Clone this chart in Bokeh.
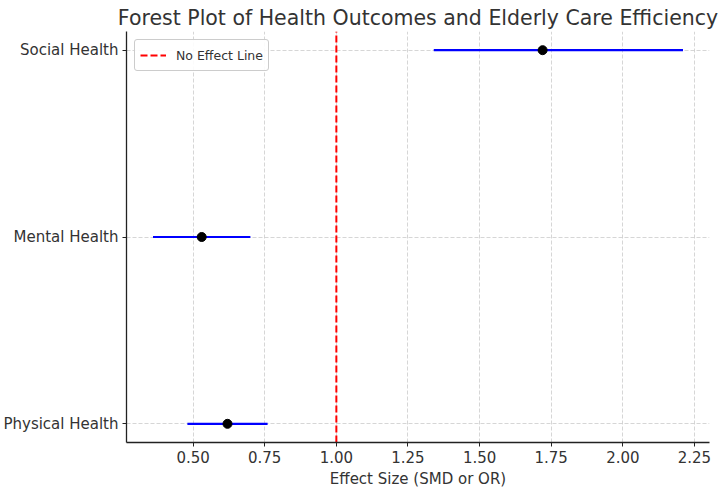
from bokeh.plotting import figure
from bokeh.models import FixedTicker, NumeralTickFormatter, Legend, LegendItem
from bokeh.embed import file_html
from bokeh.resources import INLINE

# Outcomes (bottom to top) with effect sizes and 95% CI bounds
outcomes = ["Physical Health", "Mental Health", "Social Health"]
effect = [0.62, 0.53, 1.72]
ci_low = [0.48, 0.36, 1.34]
ci_high = [0.76, 0.70, 2.21]
no_effect = 1.0
x_ticks = [0.5, 0.75, 1.0, 1.25, 1.5, 1.75, 2.0, 2.25]

FONT = "DejaVu Sans"
TXT = "#333333"

ypos = list(range(len(outcomes)))
lo_all, hi_all = min(ci_low), max(ci_high)
pad = 0.05 * (hi_all - lo_all)
y_lo, y_hi = -0.1, len(outcomes) - 1 + 0.1

p = figure(
    width=720, height=490,
    x_range=(lo_all - pad, hi_all + pad),
    y_range=(y_lo, y_hi),
    output_backend="svg", toolbar_location=None,
    title="Forest Plot of Health Outcomes and Elderly Care Efficiency",
    min_border_left=124, min_border_right=11, min_border_bottom=48, min_border_top=31,
)
p.title.text_font = FONT
p.title.text_font_size = "20.5px"
p.title.text_font_style = "normal"
p.title.text_color = TXT
p.title.align = "center"
p.title.offset = 0
p.title.standoff = 4

p.outline_line_color = None
p.background_fill_color = "white"

# axes
p.xaxis.ticker = FixedTicker(ticks=x_ticks)
p.xaxis.formatter = NumeralTickFormatter(format="0.00")
p.yaxis.ticker = FixedTicker(ticks=ypos)
p.yaxis.major_label_overrides = {i: name for i, name in zip(ypos, outcomes)}
p.xaxis.axis_label = "Effect Size (SMD or OR)"
for ax in (p.xaxis, p.yaxis):
    ax.axis_line_color = "#222222"
    ax.axis_line_width = 1.3
    ax.major_tick_line_color = "#222222"
    ax.major_tick_out = 4
    ax.major_tick_in = 0
    ax.minor_tick_line_color = None
    ax.major_label_text_font = FONT
    ax.major_label_text_color = TXT
    ax.axis_label_text_font = FONT
    ax.axis_label_text_font_style = "normal"
    ax.axis_label_text_color = TXT
p.xaxis.major_label_text_font_size = "15px"
p.yaxis.major_label_text_font_size = "15px"
p.xaxis.axis_label_text_font_size = "15px"
p.xaxis.major_label_standoff = 4
p.yaxis.major_label_standoff = 4
p.xaxis.axis_label_standoff = 4

for g in (p.xgrid, p.ygrid):
    g.grid_line_color = "#cccccc"
    g.grid_line_dash = "4 2"
    g.grid_line_alpha = 0.8
p.xgrid.ticker = FixedTicker(ticks=x_ticks)
p.ygrid.ticker = FixedTicker(ticks=ypos)

# confidence intervals and point estimates
p.segment(x0=ci_low, x1=ci_high, y0=ypos, y1=ypos, line_color="blue", line_width=2.2)
p.scatter(x=effect, y=ypos, size=9, fill_color="black", line_color="black")

# reference line at no effect
ref = p.line(x=[no_effect, no_effect], y=[y_lo, y_hi],
             line_color="red", line_width=2, line_dash="7 3")

legend = Legend(items=[LegendItem(label="No Effect Line", renderers=[ref])],
                location="top_left")
legend.label_text_font = FONT
legend.label_text_font_size = "12.5px"
legend.label_text_color = TXT
legend.border_line_color = "#cccccc"
legend.border_line_alpha = 1
legend.border_radius = 3
legend.background_fill_alpha = 0.9
legend.glyph_width = 26
legend.label_standoff = 10
legend.padding = 5
legend.margin = 8
legend.spacing = 0
p.add_layout(legend)

open("out.html", "w").write(file_html(p, INLINE))
